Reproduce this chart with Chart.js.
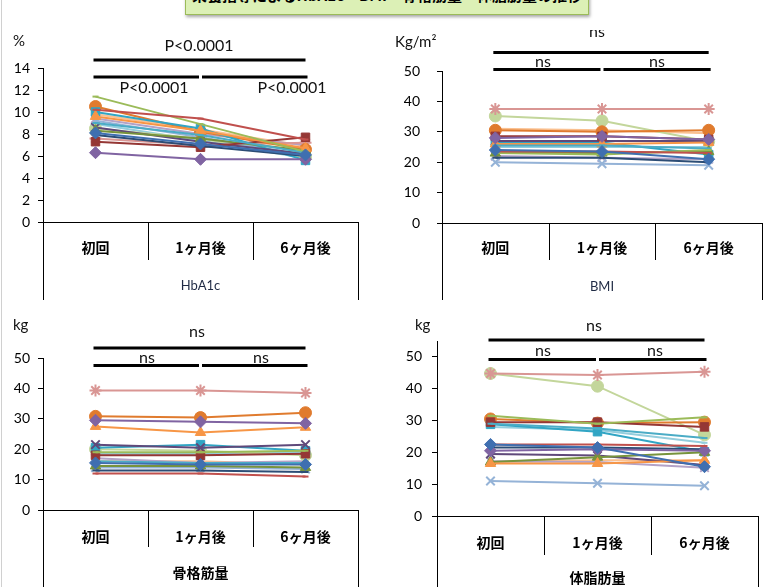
<!DOCTYPE html>
<html><head><meta charset="utf-8">
<script src="https://cdn.jsdelivr.net/npm/chart.js@4.4.1/dist/chart.umd.min.js"></script>
<style>
html,body{margin:0;padding:0;background:#fff;width:774px;height:587px;overflow:hidden;position:relative;}
canvas{position:absolute;}
#edge{position:absolute;left:1px;top:0;width:1px;height:587px;background:#d0d0d0;}
#title{position:absolute;left:185px;top:-14px;width:402px;height:27px;background:#dcf0b6;border:1.5px solid #9bbb59;box-shadow:1px 2px 3px rgba(0,0,0,0.35);overflow:hidden;}
#title span{position:absolute;left:0;right:0;top:-3px;text-align:center;font:bold 15px "Noto Sans CJK JP";color:#000;white-space:nowrap;}
</style></head>
<body>
<div id="edge"></div>
<div id="title"><span>栄養指導によるHbA1c・BMI・骨格筋量・体脂肪量の推移</span></div>
<canvas id="c1" width="390" height="270" style="left:0;top:30px"></canvas>
<canvas id="c2" width="384" height="270" style="left:390px;top:30px"></canvas>
<canvas id="c3" width="390" height="287" style="left:0;top:300px"></canvas>
<canvas id="c4" width="384" height="287" style="left:390px;top:300px"></canvas>
<script>
// ---- data ----
const categories = ['初回', '1ヶ月後', '6ヶ月後'];
const panelNames = ['HbA1c', 'BMI', '骨格筋量', '体脂肪量'];
const unitLabels = ['%', 'Kg/m²', 'kg', 'kg'];
const sigLabelsHbA1c = ['P<0.0001', 'P<0.0001', 'P<0.0001'];
const sigLabelsOther = ['ns', 'ns', 'ns'];

const hba1cValues = [
  [8.1, 7.1, 6.1], [10.2, 9.4, 7.5], [11.4, 8.9, 6.4], [6.3, 5.7, 5.7],
  [9.0, 7.9, 6.3], [9.6, 8.3, 6.7], [7.9, 6.9, 6.0], [7.3, 6.8, 7.7],
  [8.3, 7.6, 6.5], [8.6, 7.3, 6.2], [10.0, 8.5, 5.6], [10.5, 8.2, 6.6],
  [9.2, 7.7, 6.1], [7.6, 7.0, 7.2], [8.5, 7.6, 5.9], [9.4, 8.0, 7.0],
  [8.9, 7.4, 5.8], [9.8, 8.4, 6.9]
];
const bmiValues = [
  [24, 23.5, 21], [23.5, 23.5, 23], [23, 22.5, 24], [28, 28.5, 27.5],
  [25.5, 25.5, 24.5], [26, 26, 26.5], [21.5, 21.5, 20], [28.5, 28.5, 27.5],
  [23, 23, 23.5], [27, 27, 27], [26.5, 26.5, 22.5], [30.5, 30, 30.5],
  [20, 19.5, 19], [37.5, 37.5, 37.5], [35.2, 33.6, 26.8], [22, 21.5, 21],
  [25, 25, 25], [31, 30.5, 29.5]
];
const muscleValues = [
  [15.5, 15, 15], [12, 12, 11], [19, 19, 19.5], [29.5, 29, 28.5],
  [16, 15.5, 15.5], [27.5, 25.5, 27.2], [13, 13, 12.5], [18, 18, 18.5],
  [14.5, 14.5, 14], [21.5, 20.5, 21.5], [20.5, 21.5, 19.5], [30.8, 30.4, 32],
  [14, 14, 13.5], [39.3, 39.3, 38.5], [20, 19.5, 18], [17, 15.5, 16],
  [18.5, 18.5, 19], [16, 16, 15]
];
const fatValues = [
  [22.5, 21.5, 15.5], [22.5, 22.5, 22], [31.5, 29, 31], [20.5, 21, 20.5],
  [29, 27.5, 24.5], [16.5, 16.5, 17.5], [21.5, 21.5, 21], [29.5, 29.5, 28],
  [17, 18.5, 20], [19.5, 19, 16], [28.8, 26.5, 20.2], [30.5, 29.2, 29.5],
  [11, 10.3, 9.5], [44.8, 44.3, 45.3], [44.8, 40.8, 25.5], [17.2, 17, 15.2],
  [28, 27, 23], [17, 17.5, 17.5]
];

// ---- styles ----
const seriesColors = ['#3F6FB0', '#C0504D', '#9BBB59', '#8064A2', '#4BACC6', '#F79646',
  '#2C4D75', '#953735', '#77933C', '#5F497A', '#31A5C4', '#E07B2E',
  '#95B3D7', '#D99694', '#C3D69B', '#B3A2C7', '#93CDDD', '#FAC090'];
const seriesMarkers = ['rectRot', 'line', 'line', 'rectRot', 'line', 'triangle',
  'line', 'rect', 'triangle', 'crossRot', 'rect', 'circle',
  'crossRot', 'star', 'circle', 'crossRot', 'line', 'line'];

function buildDatasets(values) {
  return values.map((v, i) => {
    const m = seriesMarkers[i];
    const lineish = (m === 'star' || m === 'crossRot' || m === 'line');
    return {
      label: '症例' + (i + 1),
      data: v,
      borderColor: seriesColors[i],
      backgroundColor: seriesColors[i],
      pointBackgroundColor: seriesColors[i],
      pointBorderColor: seriesColors[i],
      pointStyle: m,
      pointRadius: m === 'line' ? 3 : 6,
      pointBorderWidth: lineish ? 2 : 1,
      borderWidth: 2,
      tension: 0
    };
  });
}

const overlay = {
  id: 'overlay',
  afterDraw(chart, args, o) {
    const ctx = chart.ctx, xs = chart.scales.x, a = chart.chartArea, H = chart.height;
    ctx.save();
    ctx.strokeStyle = '#000';
    ctx.lineWidth = 1;
    const w = (a.right - a.left) / 3;
    for (let i = 0; i <= 3; i++) {
      const px = Math.round(a.left + i * w) + 0.5;
      ctx.beginPath();
      ctx.moveTo(px, a.bottom);
      ctx.lineTo(px, (i === 0 || i === 3) ? H : a.bottom + o.divLen);
      ctx.stroke();
    }
    ctx.textAlign = 'center';
    ctx.textBaseline = 'middle';
    ctx.fillStyle = '#000';
    ctx.font = 'bold 14px "Noto Sans CJK JP"';
    categories.forEach((c, i) => ctx.fillText(c, xs.getPixelForValue(i), a.bottom + o.catDy));
    ctx.font = o.groupFont;
    ctx.fillStyle = o.groupColor;
    ctx.fillText(o.group, (a.left + a.right) / 2, a.bottom + o.groupDy);
    ctx.font = '15px Lato';
    ctx.fillStyle = '#111';
    ctx.textAlign = 'left';
    ctx.fillText(o.unit, o.unitX, o.unitY);
    const c0 = xs.getPixelForValue(0), c1 = xs.getPixelForValue(1), c2 = xs.getPixelForValue(2);
    ctx.lineWidth = 3;
    ctx.strokeStyle = '#000';
    const seg = (x1, x2, y) => { ctx.beginPath(); ctx.moveTo(x1, y); ctx.lineTo(x2, y); ctx.stroke(); };
    seg(c0 - 2, c2, o.bar1Y);
    seg(c0 - 2, c1 - 1.5, o.bar2Y);
    seg(c1 + 1.5, c2 + 2, o.bar2Y);
    ctx.font = o.sigFont;
    ctx.fillStyle = '#111';
    ctx.textAlign = 'center';
    ctx.fillText(o.sig[0], o.t0[0], o.t0[1]);
    ctx.fillText(o.sig[1], o.t1[0], o.t1[1]);
    ctx.fillText(o.sig[2], o.t2[0], o.t2[1]);
    ctx.restore();
  }
};

function makeChart(id, values, p) {
  const cv = document.getElementById(id);
  const W = cv.width, H = cv.height;
  return new Chart(cv, {
    type: 'line',
    data: { labels: categories, datasets: buildDatasets(values) },
    options: {
      responsive: false,
      animation: false,
      devicePixelRatio: 1,
      layout: { padding: { left: 0, top: p.area[1], right: W - p.area[2], bottom: 0 } },
      plugins: { legend: { display: false }, tooltip: { enabled: false }, overlay: p.ov },
      scales: {
        x: {
          type: 'category', offset: true,
          grid: { display: false },
          ticks: { display: false },
          border: { display: true, color: '#000', width: 1 },
          afterFit: s => { s.height = H - p.area[3]; }
        },
        y: {
          min: p.min, max: p.max,
          ticks: { stepSize: p.step, padding: p.labelPad, color: '#000', font: { family: 'Lato', size: 14 },
            callback: v => (v % p.step === 0 ? String(v) : '') },
          grid: { drawOnChartArea: false, drawTicks: true, tickLength: 5, color: '#000' },
          border: { display: true, color: '#000', width: 1 },
          afterFit: s => { s.width = p.area[0]; },
          afterBuildTicks: s => { s.ticks = s.ticks.filter(t => t.value <= p.lastTick); }
        }
      }
    },
    plugins: [overlay]
  });
}

makeChart('c1', hba1cValues, {
  area: [43, 38, 358, 192], min: 0, max: 14, step: 2, lastTick: 14, labelPad: 8,
  ov: { divLen: 38, catDy: 26, groupDy: 64, group: panelNames[0], groupFont: '13px Lato', groupColor: '#1f2a44',
    unit: unitLabels[0], unitX: 13, unitY: 11, bar1Y: 30, bar2Y: 47,
    sig: sigLabelsHbA1c, sigFont: '16px Lato', t0: [199, 16], t1: [154, 58], t2: [292, 58] }
});
makeChart('c2', bmiValues, {
  area: [52, 41, 372, 193], min: 0, max: 50, step: 10, lastTick: 50, labelPad: 17,
  ov: { divLen: 37, catDy: 25, groupDy: 64, group: panelNames[1], groupFont: '13px Lato', groupColor: '#1f2a44',
    unit: unitLabels[1], unitX: 5, unitY: 12, bar1Y: 22.5, bar2Y: 39.5,
    sig: sigLabelsOther, sigFont: '16px Lato', t0: [207, 2], t1: [153, 32], t2: [267, 32] }
});
makeChart('c3', muscleValues, {
  area: [43, 58, 358, 210], min: 0, max: 50, step: 10, lastTick: 50, labelPad: 8,
  ov: { divLen: 37, catDy: 27, groupDy: 63, group: panelNames[2], groupFont: 'bold 14px "Noto Sans CJK JP"', groupColor: '#000',
    unit: unitLabels[2], unitX: 13, unitY: 25, bar1Y: 48, bar2Y: 65.5,
    sig: sigLabelsOther, sigFont: '16px Lato', t0: [197, 32], t1: [147, 58], t2: [261, 58] }
});
makeChart('c4', fatValues, {
  area: [47, 41, 368, 216], min: 0, max: 55, step: 10, lastTick: 50, labelPad: 10,
  ov: { divLen: 39, catDy: 27, groupDy: 62, group: panelNames[3], groupFont: 'bold 14px "Noto Sans CJK JP"', groupColor: '#000',
    unit: unitLabels[3], unitX: 25, unitY: 25, bar1Y: 40, bar2Y: 59.5,
    sig: sigLabelsOther, sigFont: '16px Lato', t0: [204, 26], t1: [153, 51], t2: [265, 51] }
});
</script>
</body></html>
